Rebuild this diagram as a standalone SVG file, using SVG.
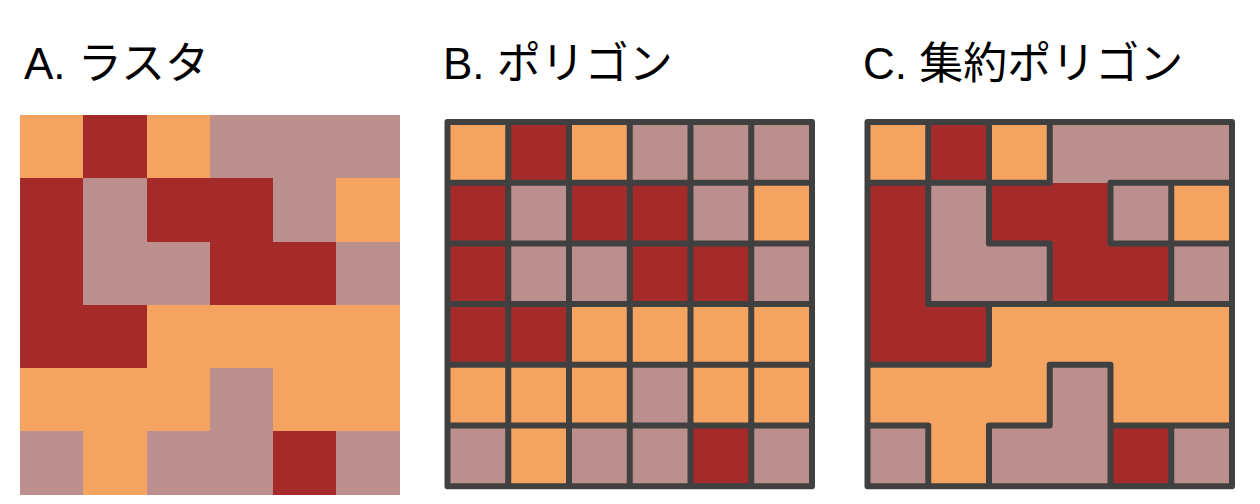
<svg xmlns="http://www.w3.org/2000/svg" width="1260" height="504" viewBox="0 0 1260 504">
<style>
.t{font-family:"Liberation Sans","Noto Sans CJK JP",sans-serif;font-size:44px;fill:#000}
.o{fill:#F4A460}.r{fill:#A52A2A}.p{fill:#BC8F8F}
.ln{fill:none;stroke:#404040;stroke-width:6;stroke-linecap:round;stroke-linejoin:round}
</style>
<rect width="1260" height="504" fill="#fff"/>
<g id="titles">
<text class="t" x="24" y="79">A. ラスタ</text>
<text class="t" x="443" y="79">B. ポリゴン</text>
<text class="t" x="863" y="79">C. 集約ポリゴン</text>
</g>
<defs>
<g id="cells">
<rect class="o" x="0" y="0" width="1" height="1"/><rect class="r" x="1" y="0" width="1" height="1"/><rect class="o" x="2" y="0" width="1" height="1"/><rect class="p" x="3" y="0" width="3" height="1"/>
<rect class="r" x="0" y="1" width="1" height="1"/><rect class="p" x="1" y="1" width="1" height="1"/><rect class="r" x="2" y="1" width="2" height="1"/><rect class="p" x="4" y="1" width="1" height="1"/><rect class="o" x="5" y="1" width="1" height="1"/>
<rect class="r" x="0" y="2" width="1" height="1"/><rect class="p" x="1" y="2" width="2" height="1"/><rect class="r" x="3" y="2" width="2" height="1"/><rect class="p" x="5" y="2" width="1" height="1"/>
<rect class="r" x="0" y="3" width="2" height="1"/><rect class="o" x="2" y="3" width="4" height="1"/>
<rect class="o" x="0" y="4" width="3" height="1"/><rect class="p" x="3" y="4" width="1" height="1"/><rect class="o" x="4" y="4" width="2" height="1"/>
<rect class="p" x="0" y="5" width="1" height="1"/><rect class="o" x="1" y="5" width="1" height="1"/><rect class="p" x="2" y="5" width="2" height="1"/><rect class="r" x="4" y="5" width="1" height="1"/><rect class="p" x="5" y="5" width="1" height="1"/>
</g>
</defs>
<g id="raster" shape-rendering="crispEdges">
<use href="#cells" transform="translate(20 115) scale(63.25)"/>
</g>
<g id="polygon">
<use href="#cells" shape-rendering="crispEdges" transform="translate(447.5 122) scale(60.75 60.7)"/>
<path class="ln" d="M447.5 122H812V486.2H447.5Z M508.25 122V486.2 M569 122V486.2 M629.75 122V486.2 M690.5 122V486.2 M751.25 122V486.2 M447.5 182.7H812 M447.5 243.4H812 M447.5 304.1H812 M447.5 364.8H812 M447.5 425.5H812"/>
</g>
<g id="aggregated">
<use href="#cells" shape-rendering="crispEdges" transform="translate(867.5 122) scale(60.75 60.7)"/>
<path class="ln" d="M867.5 122H1232V486.2H867.5Z
M928.25 122V304.1 M989 122V243.4 M1049.75 122V182.7 M1110.5 182.7V243.4 M1171.25 182.7V304.1
M928.25 243.4V304.1 M1049.75 243.4V304.1 M989 304.1V364.8 M1049.75 364.8V425.5 M1110.5 364.8V425.5
M928.25 425.5V486.2 M989 425.5V486.2 M1110.5 425.5V486.2 M1171.25 425.5V486.2
M867.5 182.7H1049.75 M1110.5 182.7H1232
M989 243.4H1049.75 M1110.5 243.4H1232
M928.25 304.1H1232
M867.5 364.8H989 M1049.75 364.8H1110.5
M867.5 425.5H928.25 M989 425.5H1049.75 M1110.5 425.5H1232"/>
</g>
</svg>
